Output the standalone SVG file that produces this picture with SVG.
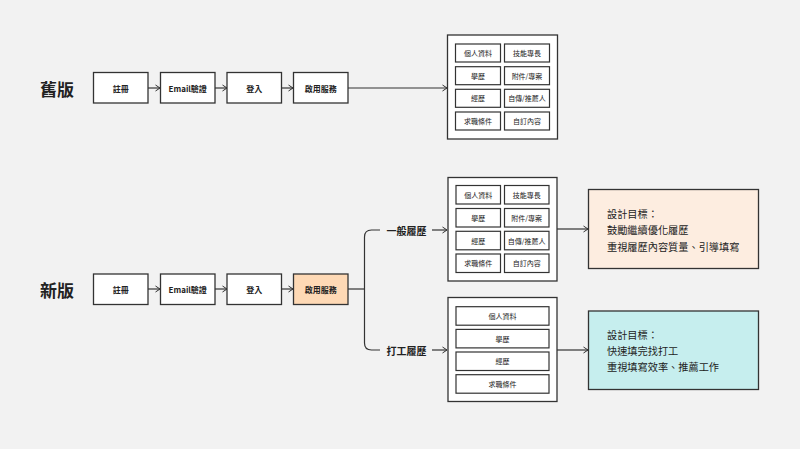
<svg xmlns="http://www.w3.org/2000/svg" width="800" height="449" viewBox="0 0 800 449">
<defs>
<marker id="arr" markerWidth="8" markerHeight="8" refX="6" refY="4" orient="auto" markerUnits="userSpaceOnUse">
<path d="M1.5,1 L6,4 L1.5,7" fill="none" stroke="#333" stroke-width="1"/>
</marker>
<style>
.bg{fill:#f2f2f2}
.box{fill:#fff;stroke:#333;stroke-width:1.3}
.cont{fill:#fff;stroke:#333;stroke-width:1.3}
.cell{fill:#fff;stroke:#333;stroke-width:1.2}
.hl{fill:#fed9b5;stroke:#333;stroke-width:1.3}
.g1{fill:#fdede0;stroke:#333;stroke-width:1.3}
.g2{fill:#c6eeee;stroke:#333;stroke-width:1.3}
.ln{fill:none;stroke:#333;stroke-width:1.2}
text{font-family:"Noto Sans CJK TC","Noto Sans",sans-serif;fill:#222}
.t{font-size:8px;font-weight:bold;text-anchor:middle;dominant-baseline:central}
.c{font-size:7px;text-anchor:middle;dominant-baseline:central}
.h{font-size:17px;font-weight:bold;text-anchor:middle;dominant-baseline:central}
.lb{font-size:10px;font-weight:bold;text-anchor:middle;dominant-baseline:central}
.gt{font-size:10.2px;dominant-baseline:central}
</style>
</defs>
<rect class="bg" x="0" y="0" width="800" height="449"/>

<g id="connectors">
<line class="ln" x1="148" y1="88" x2="160" y2="88" marker-end="url(#arr)"/>
<line class="ln" x1="215" y1="88" x2="227" y2="88" marker-end="url(#arr)"/>
<line class="ln" x1="282" y1="88" x2="293" y2="88" marker-end="url(#arr)"/>
<line class="ln" x1="348" y1="88" x2="447" y2="88" marker-end="url(#arr)"/>
<line class="ln" x1="148" y1="289" x2="160" y2="289" marker-end="url(#arr)"/>
<line class="ln" x1="215" y1="289" x2="227" y2="289" marker-end="url(#arr)"/>
<line class="ln" x1="282" y1="289" x2="293" y2="289" marker-end="url(#arr)"/>
<line class="ln" x1="348" y1="289" x2="364.5" y2="289"/>
<path class="ln" d="M380,230 H371.5 Q364.5,230 364.5,237 V343 Q364.5,350 371.5,350 H380"/>
<line class="ln" x1="432" y1="230" x2="447" y2="230" marker-end="url(#arr)"/>
<line class="ln" x1="432" y1="350" x2="447" y2="350" marker-end="url(#arr)"/>
<line class="ln" x1="557" y1="229" x2="588" y2="229" marker-end="url(#arr)"/>
<line class="ln" x1="557" y1="350" x2="588" y2="350" marker-end="url(#arr)"/>
</g>

<g id="title-old"><text class="h" x="57" y="88">舊版</text></g>
<g id="title-new"><text class="h" x="57" y="289">新版</text></g>

<g id="old-register"><rect class="box" x="93.5" y="72.5" width="54.5" height="30.5"/><text class="t" x="120.7" y="88">註冊</text></g>
<g id="old-email"><rect class="box" x="160.5" y="72.5" width="54.5" height="30.5"/><text class="t" x="187.7" y="88">Email驗證</text></g>
<g id="old-login"><rect class="box" x="227" y="72.5" width="54.5" height="30.5"/><text class="t" x="254.2" y="88">登入</text></g>
<g id="old-enable"><rect class="box" x="293.5" y="72.5" width="54.5" height="30.5"/><text class="t" x="320.7" y="88">啟用服務</text></g>

<g id="old-resume">
<rect class="cont" x="447.5" y="35" width="110" height="104"/>
<rect class="cell" x="455.5" y="44" width="45" height="18"/><text class="c" x="478" y="53">個人資料</text>
<rect class="cell" x="504.5" y="44" width="45" height="18"/><text class="c" x="527" y="53">技能專長</text>
<rect class="cell" x="455.5" y="66.7" width="45" height="18"/><text class="c" x="478" y="75.7">學歷</text>
<rect class="cell" x="504.5" y="66.7" width="45" height="18"/><text class="c" x="527" y="75.7">附件/專案</text>
<rect class="cell" x="455.5" y="89.3" width="45" height="18"/><text class="c" x="478" y="98.3">經歷</text>
<rect class="cell" x="504.5" y="89.3" width="45" height="18"/><text class="c" x="527" y="98.3">自傳/推薦人</text>
<rect class="cell" x="455.5" y="112" width="45" height="18"/><text class="c" x="478" y="121">求職條件</text>
<rect class="cell" x="504.5" y="112" width="45" height="18"/><text class="c" x="527" y="121">自訂內容</text>
</g>

<g id="new-register"><rect class="box" x="93.5" y="274" width="54.5" height="30.5"/><text class="t" x="120.7" y="289.3">註冊</text></g>
<g id="new-email"><rect class="box" x="160.5" y="274" width="54.5" height="30.5"/><text class="t" x="187.7" y="289.3">Email驗證</text></g>
<g id="new-login"><rect class="box" x="227" y="274" width="54.5" height="30.5"/><text class="t" x="254.2" y="289.3">登入</text></g>
<g id="new-enable"><rect class="hl" x="293.5" y="274" width="54.5" height="30.5"/><text class="t" x="320.7" y="289.3">啟用服務</text></g>

<g id="label-general"><text class="lb" x="406.5" y="230">一般履歷</text></g>
<g id="label-parttime"><text class="lb" x="406.5" y="350.5">打工履歷</text></g>

<g id="general-resume">
<rect class="cont" x="448" y="177.5" width="109" height="103.5"/>
<rect class="cell" x="456" y="185.5" width="44.5" height="18.5"/><text class="c" x="478.2" y="194.8">個人資料</text>
<rect class="cell" x="504.5" y="185.5" width="44.5" height="18.5"/><text class="c" x="526.7" y="194.8">技能專長</text>
<rect class="cell" x="456" y="208.5" width="44.5" height="18.5"/><text class="c" x="478.2" y="217.8">學歷</text>
<rect class="cell" x="504.5" y="208.5" width="44.5" height="18.5"/><text class="c" x="526.7" y="217.8">附件/專案</text>
<rect class="cell" x="456" y="231.3" width="44.5" height="18.5"/><text class="c" x="478.2" y="240.6">經歷</text>
<rect class="cell" x="504.5" y="231.3" width="44.5" height="18.5"/><text class="c" x="526.7" y="240.6">自傳/推薦人</text>
<rect class="cell" x="456" y="254" width="44.5" height="18.5"/><text class="c" x="478.2" y="263.3">求職條件</text>
<rect class="cell" x="504.5" y="254" width="44.5" height="18.5"/><text class="c" x="526.7" y="263.3">自訂內容</text>
</g>

<g id="parttime-resume">
<rect class="cont" x="448" y="297.5" width="109" height="104"/>
<rect class="cell" x="456" y="306.7" width="93" height="18.5"/><text class="c" x="502.5" y="316">個人資料</text>
<rect class="cell" x="456" y="329.4" width="93" height="18.5"/><text class="c" x="502.5" y="338.7">學歷</text>
<rect class="cell" x="456" y="352" width="93" height="18.5"/><text class="c" x="502.5" y="361.3">經歷</text>
<rect class="cell" x="456" y="374.7" width="93" height="18.5"/><text class="c" x="502.5" y="384">求職條件</text>
</g>

<g id="goal-general">
<rect class="g1" x="588.5" y="189.5" width="170" height="79"/>
<text class="gt" x="607" y="213">設計目標：</text>
<text class="gt" x="607" y="229.5">鼓勵繼續優化履歷</text>
<text class="gt" x="607" y="246">重視履歷內容質量、引導填寫</text>
</g>

<g id="goal-parttime">
<rect class="g2" x="588.5" y="311" width="170" height="78.5"/>
<text class="gt" x="607" y="334.7">設計目標：</text>
<text class="gt" x="607" y="350.7">快速填完找打工</text>
<text class="gt" x="607" y="366.5">重視填寫效率、推薦工作</text>
</g>
</svg>
